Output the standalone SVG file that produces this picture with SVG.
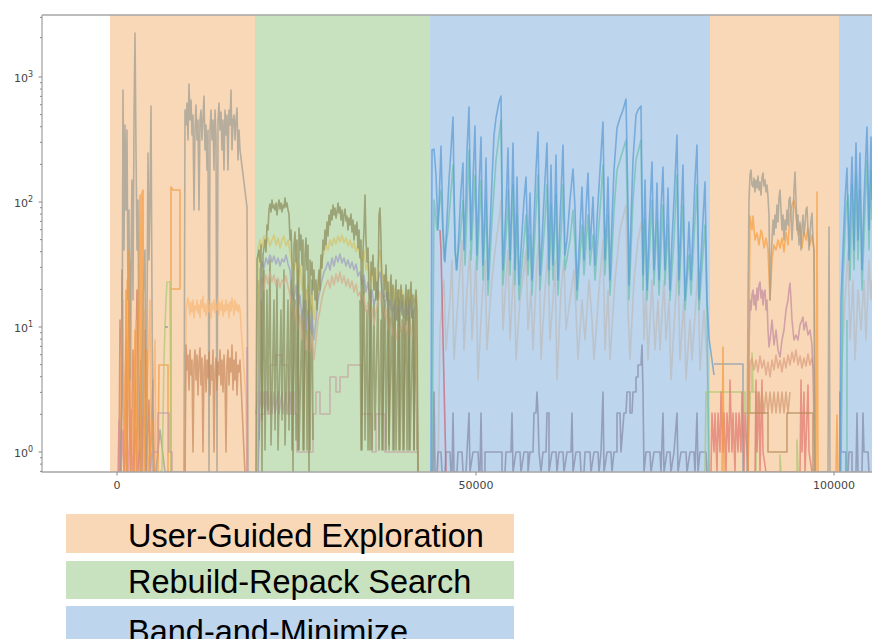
<svg xmlns="http://www.w3.org/2000/svg" width="872" height="639" viewBox="0 0 872 639">
  <style>
    .tick { stroke: #8a8a8a; stroke-width: 1; }
    .spine { stroke: #a6a6a6; stroke-width: 1.3; fill: none; }
    .tl { font-family: "DejaVu Sans", sans-serif; font-size: 11px; fill: #444; }
    .ln { fill: none; stroke-width: 1.6; stroke-linejoin: round; stroke-opacity: 0.72; }
    .leg { font-family: "Liberation Sans", Arial, sans-serif; font-size: 32.5px; fill: #000; }
  </style>
  <defs>
    <clipPath id="plotArea"><rect x="42" y="15" width="830" height="457"/></clipPath>
  </defs>

  <rect width="872" height="639" fill="#fff"/>

  <!-- phase spans -->
  <g id="phases">
    <rect x="110" y="15" width="145" height="457" fill="#f9d8b8"/>
    <rect x="255" y="15" width="175" height="457" fill="#c8e1bf"/>
    <rect x="430" y="15" width="280" height="457" fill="#bdd5ed"/>
    <rect x="710" y="15" width="129" height="457" fill="#f9d8b8"/>
    <rect x="839" y="15" width="33" height="457" fill="#bdd5ed"/>
  </g>

  <!-- score traces -->
  <g id="traces" clip-path="url(#plotArea)">
    <!-- exploration phase 1 -->
    <polyline class="ln" stroke="#d07a5a" points="119,472 120,320 121,472 122,270 123,380 124,472 126,340 127,472 129,300 130,420 131,472 133,350 134,472 137,290 138,472 141,360 142,472 145,330 146,472 149,400 150,472 153,380 154,472 156,472"/>
    <polyline class="ln" stroke="#f7b070" points="120,472 121,360 123,300 124,472 127,280 128,400 131,260 132,472 136,320 137,472 144,310 145,472 150,300 151,472 155,340 156,472"/>
    <polyline class="ln" stroke="#e08a90" points="118,472 119,420 121,472 123,430 124,472 127,440 128,472 131,410 132,472 136,430 137,472 140,450 141,472"/>
    <polyline class="ln" stroke="#9c9c92" stroke-width="2" points="118,472 120,472 122,400 123,90 124,250 125,125 126,210 127,130 128,300 129,210 130,380 131,260 132,180 133,300 134,120 135,33 136,150 137,250 138,200 139,380 140,472 142,400 143,300 145,250 146,472 148,153 149,260 150,200 151,106 152,300 153,472 156,472 160,430 165,472 184,472 185,110 186,125 187,103 188,140 189,84 190,120 191,100 192,135 193,115 194,210 195,130 196,105 197,140 198,120 199,210 200,120 201,110 202,140 203,118 204,96 205,150 206,125 207,170 208,130 209,472 210,130 211,110 212,140 213,120 214,170 215,110 216,135 217,472 218,120 219,103 220,130 221,112 222,150 223,120 224,170 225,110 226,135 227,115 228,170 229,110 230,125 231,90 232,150 233,120 234,115 235,140 236,120 237,108 238,160 239,130 240,150 247,207 248,472"/>
    <polyline class="ln" stroke="#f39a40" points="125,472 126,290 127,472 129,250 130,472 134,472 135,330 136,472 139,300 140,195 141,472 142,193 143,190 144,472 147,350 148,472 153,420 154,472 158,472 159,365 168,365 168,472 171,472 171,187 173,190 180,190 180,289 171,289"/>
    <polyline class="ln" stroke="#a8cc78" points="160,472 162,470 163,420 164,360 165,327 166,300 167,282 170,282 171,472"/>
    <polyline class="ln" stroke="#7f93a8" points="165,327 168,327"/>
    <polyline class="ln" stroke="#c898a8" points="150,472 152,452 158,452 158,413 169,413 169,452 172,452 172,472"/>
    <polyline class="ln" stroke="#f8b878" points="185,472 186,310 188,298 189,305 190,315 191,302 192,312 193,300 194,318 195,306 196,310 197,300 198,313 199,305 200,318 201,300 202,308 203,296 204,312 205,304 206,316 207,306 208,300 209,312 210,305 211,318 212,303 213,310 214,300 215,313 216,304 217,310 218,298 219,315 220,303 221,310 222,300 223,316 224,305 225,312 226,300 227,310 228,304 229,318 230,302 231,311 232,298 233,306 234,315 235,300 236,310 237,304 238,312 239,305 240,310 246,400 247,472"/>
    <polyline class="ln" stroke="#c98a5e" points="185,472 186,345 187,370 188,355 189,390 190,350 191,375 192,360 193,452 194,365 195,350 196,380 197,355 198,395 199,362 200,348 201,385 202,358 203,452 204,370 205,355 206,392 207,360 208,378 209,352 210,395 211,365 212,380 213,350 214,452 215,372 216,358 217,390 218,362 219,375 220,350 221,385 222,360 223,392 224,355 225,378 226,452 227,362 228,350 229,385 230,358 231,372 232,345 233,390 234,360 235,380 236,352 237,395 238,365 239,372 240,360 244,452 245,472"/>
    <polyline class="ln" stroke="#c890a0" points="247,347 247,472"/>

    <!-- rebuild-repack phase -->
    <polyline class="ln" stroke="#b0a0a0" points="256,414 258,392 259,414 261,392 262,414 264,392 265,414 267,392 268,414 271,392 272,414 274,392 275,414 278,392 279,414 282,392 283,414 286,392 287,414 290,392 291,414"/>
    <polyline class="ln" stroke="#c4a4a0" points="258,472 260,414 265,414 265,392 268,392 268,414 270,414 270,365 276,365 276,355 282,355 282,365 288,365 288,414 292,414 292,392 294,392 294,414 297,414 297,452 313,452 313,414 316,414 316,392 320,392 320,414 330,414 330,377 336,377 336,392 340,392 340,377 348,377 348,365 362,365 362,414 372,414 372,452 376,452 376,414 385,414 385,452 418,452 418,472"/>
    <polyline class="ln" stroke="#8c8f5e" stroke-opacity="0.35" points="258,280 259,440 261,300 262,420 264,270 265,450 267,290 268,410 270,260 271,445 274,300 275,430 277,280 278,450 281,310 282,420 284,270 285,445 288,300 289,430 291,280 292,450 295,300 296,440 298,270 299,450 302,310 303,450 306,290 307,450 309,300 310,450 312,280 313,440"/>
    <polyline class="ln" stroke="#8c8f5e" stroke-opacity="0.35" points="360,300 361,450 364,280 365,440 367,310 368,450 371,290 372,450 374,300 375,430 378,290 379,450 381,320 382,450 385,300 386,450 388,290 389,445 392,310 393,450 395,300 396,450 399,290 400,450 402,320 403,450 406,300 407,450 409,290 410,450 413,310 414,450 416,300 417,450"/>
    <polyline class="ln" stroke="#d4ad8c" points="258,472 260,285 262,278 264,290 266,275 268,284 270,272 272,282 274,275 276,286 278,278 280,288 282,280 284,284 286,276 288,286 290,295 292,310 294,320 296,305 298,330 300,315 302,340 304,320 306,350 308,330 310,352 312,335 314,360 316,340 318,320 320,310 322,298 324,290 326,285 328,280 330,288 332,276 334,285 336,274 338,282 340,272 342,283 344,276 346,286 348,279 350,288 352,281 354,292 356,284 358,296 360,292 362,305 364,295 366,312 368,302 370,320 372,308 374,325 376,312 378,300 380,292 382,310 384,318 386,308 388,330 390,318 392,335 394,322 396,340 398,326 400,332 402,320 404,338 406,325 408,335 410,320 412,338 414,328 416,324 418,472"/>
    <polyline class="ln" stroke="#9e9ec2" points="258,472 260,270 262,262 264,268 266,258 268,264 270,255 272,262 274,256 276,264 278,258 280,266 282,259 284,262 286,255 288,264 290,270 292,290 294,300 296,285 298,310 300,295 302,320 304,300 306,330 308,310 310,330 312,315 314,340 316,320 318,300 320,290 322,280 324,272 326,268 328,262 330,270 332,258 334,266 336,256 338,262 340,254 342,263 344,258 346,266 348,260 350,268 352,262 354,270 356,264 358,276 360,272 362,285 364,275 366,292 368,282 370,300 372,290 374,305 376,295 378,280 380,272 382,290 384,300 386,292 388,310 390,300 392,315 394,305 396,320 398,306 400,312 402,300 404,318 406,305 408,315 410,300 412,318 414,310 416,305 418,472"/>
    <polyline class="ln" stroke="#d6c46a" points="257,472 258,250 260,240 262,248 264,236 266,244 268,238 270,246 272,240 274,235 276,245 278,238 280,248 282,240 284,236 286,246 288,240 290,252 292,262 294,270 296,258 298,280 300,265 302,290 304,275 306,300 308,285 310,310 312,295 314,320 316,300 318,290 320,270 322,260 324,252 326,245 328,250 330,240 332,246 334,238 336,244 338,236 340,242 342,235 344,243 346,238 348,246 350,240 352,248 354,242 356,252 358,246 360,256 362,262 364,250 366,270 368,262 370,280 372,270 374,290 376,280 378,262 380,250 382,270 384,285 386,275 388,292 390,282 392,300 394,288 396,305 398,292 400,298 402,290 404,305 406,295 408,300 410,290 412,305 414,300 416,296 418,472"/>
    <polyline class="ln" stroke="#8a8a5a" stroke-width="1.9" points="256,472 257,260 259,250 260,262 261,245 262,472 263,255 265,240 266,252 267,225 268,230 269,210 270,204 271,212 272,200 273,208 274,205 275,210 276,203 277,215 278,206 279,200 280,209 281,203 282,212 283,205 284,208 285,198 286,207 287,203 288,210 289,214 290,240 291,230 292,260 293,472 294,245 295,232 296,262 297,240 298,450 299,228 300,250 301,235 302,265 303,240 304,450 305,255 306,238 307,270 308,245 309,472 310,260 311,275 312,262 313,290 314,270 315,300 316,280 317,310 318,285 319,270 320,290 321,255 322,268 323,240 324,250 325,230 326,245 327,222 328,236 329,215 330,225 331,210 332,220 333,205 334,215 335,208 336,218 337,212 338,203 339,213 340,207 341,220 342,210 343,226 344,215 345,209 346,221 347,216 348,230 349,218 350,225 351,214 352,232 353,220 354,240 355,225 356,235 357,222 358,248 359,230 360,258 361,240 362,450 363,250 364,230 365,195 366,240 367,262 368,248 369,290 370,450 371,262 372,275 373,255 374,290 375,268 376,300 377,282 378,300 379,215 380,208 381,240 382,300 383,450 384,275 385,290 386,265 387,300 388,282 389,450 390,295 391,275 392,310 393,285 394,450 395,300 396,280 397,320 398,290 399,450 400,300 401,285 402,315 403,295 404,450 405,305 406,285 407,320 408,290 409,450 410,300 411,282 412,318 413,295 414,450 415,300 416,290 417,310 418,472"/>

    <!-- band-and-minimize phase -->
    <polyline class="ln" stroke="#bcbcbc" points="438,472 440,330 444,280 446,350 450,300 452,260 454,360 458,300 462,240 464,350 467,290 470,250 472,340 476,260 478,380 482,300 485,260 487,350 491,290 495,250 499,220 501,200 503,330 506,280 508,250 510,340 514,260 516,360 520,300 524,270 526,250 528,330 531,290 533,350 537,260 539,240 541,360 545,290 548,250 550,340 553,300 555,260 557,380 561,290 564,260 566,330 570,300 574,270 576,310 578,360 582,300 585,340 589,280 592,320 594,360 599,290 603,240 605,350 608,290 610,360 615,280 620,230 626,205 628,310 630,360 634,280 638,240 642,220 644,340 646,290 648,360 652,280 655,350 658,300 660,350 664,280 666,340 669,300 671,380 675,310 678,260 680,360 684,300 686,380 690,320 692,360 696,300 698,270 700,370 704,310 707,360 709,472"/>
    <polyline class="ln" stroke="#6cc0ae" points="432,472 434,200 437,230 441,190 444,260 448,230 453,165 456,270 460,240 463,200 465,265 469,150 471,260 475,175 477,270 481,180 483,280 486,200 488,295 492,220 496,160 501,120 503,285 507,220 508,190 510,275 513,185 515,285 517,215 519,300 524,240 526,215 528,275 530,235 532,295 536,210 538,175 540,290 545,220 547,185 549,285 551,205 553,280 556,195 558,295 562,215 563,185 565,270 570,240 573,210 575,245 577,300 582,225 584,275 588,215 590,265 593,235 595,280 600,210 603,165 605,275 608,215 610,295 614,210 617,170 623,150 626,140 628,240 629,300 633,200 636,160 641,140 643,290 645,220 647,300 652,200 654,285 657,220 659,295 663,205 665,285 668,225 670,300 674,240 677,175 679,295 683,205 685,310 689,255 691,295 695,220 697,185 699,310 705,225 707,310 709,472"/>
    <polyline class="ln" stroke="#5b9bd5" points="431,472 432,150 434,149 436,175 438,230 439,205 441,146 443,230 445,262 447,220 449,180 451,150 453,117 455,250 457,270 459,230 461,190 463,163 464,250 466,200 467,150 469,107 471,240 473,180 475,126 477,255 479,190 481,137 483,265 485,200 486,158 488,280 490,230 492,180 494,135 496,118 499,102 501,96 503,270 505,230 507,180 508,148 510,260 512,190 513,143 515,270 517,177 519,285 521,250 524,200 526,177 528,260 530,193 532,280 534,220 536,170 538,132 540,275 542,240 545,180 547,143 549,270 551,165 553,265 555,200 556,155 558,280 560,220 562,170 563,145 565,255 567,240 570,200 573,169 575,208 577,290 579,250 582,187 584,260 586,210 588,173 590,250 593,197 595,265 597,220 600,170 603,122 605,260 607,210 608,177 610,280 612,220 614,170 617,128 620,118 623,110 626,99 628,207 629,285 631,220 633,160 636,115 638,110 641,106 643,275 645,180 647,290 649,230 652,162 654,270 656,220 657,183 659,280 661,210 663,167 665,270 667,220 668,188 670,290 672,240 674,200 677,135 679,280 681,220 683,165 685,300 687,270 689,222 691,280 693,230 695,180 697,145 699,300 701,260 703,220 705,182 707,300 709,338 714,375"/>
    <polyline class="ln" stroke="#d06070" stroke-width="1.3" points="440,230 441,250 446,472"/>
    <polyline class="ln" stroke="#868aa6" points="432,472 433,472 434,392 435,472 437,472 438,452 441,452 442,472 445,472 446,452 450,452 451,472 452,472 453,413 454,472 457,472 458,452 462,452 463,472 466,472 467,452 469,413 470,472 473,452 478,452 479,472 480,472 481,413 482,472 485,472 485,452 502,452 502,472 505,472 506,452 511,452 512,413 513,472 516,452 520,452 521,472 524,452 528,452 528,472 530,452 533,452 534,413 536,413 537,392 538,413 539,452 541,472 543,452 546,452 547,413 549,413 549,472 552,452 556,452 557,472 559,452 563,452 564,472 567,452 571,452 572,413 573,472 576,452 580,452 581,472 584,472 585,452 590,452 591,472 594,452 598,452 599,472 601,452 603,392 604,472 607,452 611,452 612,472 614,452 617,452 617,413 620,413 621,452 624,413 626,413 627,392 630,392 630,413 632,413 633,392 636,392 636,377 638,377 638,365 641,365 642,345 643,392 644,472 646,452 650,452 651,472 654,452 660,452 661,472 663,413 664,472 667,452 670,452 671,472 674,452 677,413 678,472 681,452 686,452 687,472 690,452 694,452 695,472 697,413 698,472 700,452 706,452 707,472"/>

    <!-- exploration phase 2 -->
    <polyline class="ln" stroke="#7f9ab0" points="714,364 743,364 743,472"/>
    <polyline class="ln" stroke="#a8c86c" points="705,472 706,392 745,392 745,413 750,413 750,392 752,392 752,353 753,392 756,392 756,472 780,472 780,455 781,472 797,472 797,440 798,472"/>
    <polyline class="ln" stroke="#e07a70" stroke-opacity="0.5" points="711,472 712,413 714,452 715,413 717,472 718,413 720,452 721,392 723,452 724,413 726,472 727,413 729,452 730,380 732,452 733,413 735,472 736,413 738,452 739,413 741,452 742,392 744,472 745,413 747,452 748,472 755,472 756,380 757,452 759,392 760,472 762,380 763,452 766,472 800,472 801,380 802,452 804,392 805,472 808,385 809,452 812,472"/>
    <polyline class="ln" stroke="#d49a70" stroke-opacity="0.6" points="757,413 758,392 760,413 762,392 764,413 766,392 768,413 770,392 772,413 774,392 776,413 778,392 780,413 782,392 784,413 786,392 788,413 790,392"/>
    <polyline class="ln" stroke="#b08858" points="747,413 768,413 768,452 787,452 787,413 813,413 813,472"/>
    <polyline class="ln" stroke="#dca080" points="748,472 750,365 752,358 754,370 756,360 758,372 760,356 762,368 764,360 766,375 768,362 770,377 772,360 774,370 776,355 778,368 780,360 782,372 784,358 786,368 788,355 790,365 792,352 794,362 796,350 798,365 800,356 802,368 804,358 806,366 808,354 810,365 812,358 814,370 815,472"/>
    <polyline class="ln" stroke="#c08ca0" points="748,472 749,350 750,300 751,310 752,295 753,290 754,305 755,295 756,310 757,288 758,300 759,285 760,282 761,298 762,290 763,305 764,292 765,290 766,310 767,300 768,330 769,347 770,340 772,320 774,345 776,330 778,350 780,357 782,340 784,330 786,310 788,300 789,290 790,283 791,300 792,320 794,340 796,335 798,340 800,325 802,320 803,317 804,330 806,322 808,335 810,330 812,345 813,373 815,472"/>
    <polyline class="ln" stroke="#f5a042" points="748,472 750,216 752,230 753,216 755,240 757,233 759,245 761,230 762,233 764,248 766,238 768,250 770,300 772,260 774,245 776,250 778,240 780,248 782,238 784,252 786,232 788,245 790,215 792,205 794,200 796,215 798,235 800,225 802,248 804,232 806,240 808,228 810,245 812,235 814,250 815,472 816,472 817,192 818,472"/>
    <polyline class="ln" stroke="#f39a40" points="722,472 723,347 724,472 836,472 837,415 838,472"/>
    <polyline class="ln" stroke="#9c9c92" stroke-width="1.9" points="744,472 747,472 748,300 749,200 750,175 751,170 752,185 753,187 754,178 755,192 756,180 757,188 758,176 759,190 760,182 761,195 762,178 763,173 764,186 765,180 766,192 767,185 768,197 769,215 770,300 771,260 772,240 773,220 774,235 775,215 776,228 777,205 778,222 779,198 780,190 781,210 782,230 783,215 784,240 785,220 786,230 787,210 788,225 789,200 790,197 791,215 792,240 793,220 794,190 795,172 796,200 797,230 798,215 799,245 800,222 801,250 802,228 803,215 804,235 805,225 806,210 807,207 808,230 809,250 810,235 811,220 812,213 813,240 814,250 815,472 828,472 829,227 830,472"/>

    <!-- band-and-minimize phase 2 -->
    <polyline class="ln" stroke="#8080d0" points="840,472 840,392 841,452 846,452 846,472"/>
    <polyline class="ln" stroke="#6cc0ae" points="847,320 847,472"/>
    <polyline class="ln" stroke="#bcbcbc" points="840,472 842,360 845,300 848,250 850,340 853,280 855,360 858,290 861,330 864,280 866,340 869,260 871,300 872,280"/>
    <polyline class="ln" stroke="#6cc0ae" points="841,472 843,280 846,210 848,195 850,280 852,185 854,270 856,175 858,260 860,190 862,290 865,210 867,160 869,250 871,170 872,220"/>
    <polyline class="ln" stroke="#5b9bd5" points="840,472 841,300 843,250 845,200 847,168 849,260 851,190 852,157 854,250 855,190 856,143 858,240 860,153 862,270 864,200 866,150 867,127 869,230 871,137 872,200"/>
    <polyline class="ln" stroke="#868aa6" points="848,472 849,452 852,452 852,472 856,472 857,413 858,472 862,472 863,413 864,452 868,452 869,472"/>
  </g>

  <!-- axes -->
  <g id="axes">
    <polyline class="spine" points="42,15 42,472 872,472"/>
    <line class="spine" x1="42" y1="15" x2="872" y2="15"/>
    <g class="tick">
      <line x1="38.5" y1="77" x2="42" y2="77"/>
      <line x1="38.5" y1="202" x2="42" y2="202"/>
      <line x1="38.5" y1="327" x2="42" y2="327"/>
      <line x1="38.5" y1="452" x2="42" y2="452"/>
      <!-- minor ticks, decades 10^0..10^3 -->
      <line x1="40" y1="37.6" x2="42" y2="37.6"/>
      <line x1="40" y1="17.4" x2="42" y2="17.4"/>
      <line x1="40" y1="164.4" x2="42" y2="164.4"/>
      <line x1="40" y1="142.4" x2="42" y2="142.4"/>
      <line x1="40" y1="126.7" x2="42" y2="126.7"/>
      <line x1="40" y1="114.6" x2="42" y2="114.6"/>
      <line x1="40" y1="104.7" x2="42" y2="104.7"/>
      <line x1="40" y1="96.4" x2="42" y2="96.4"/>
      <line x1="40" y1="89.1" x2="42" y2="89.1"/>
      <line x1="40" y1="82.7" x2="42" y2="82.7"/>
      <line x1="40" y1="289.4" x2="42" y2="289.4"/>
      <line x1="40" y1="267.4" x2="42" y2="267.4"/>
      <line x1="40" y1="251.7" x2="42" y2="251.7"/>
      <line x1="40" y1="239.6" x2="42" y2="239.6"/>
      <line x1="40" y1="229.7" x2="42" y2="229.7"/>
      <line x1="40" y1="221.4" x2="42" y2="221.4"/>
      <line x1="40" y1="214.1" x2="42" y2="214.1"/>
      <line x1="40" y1="207.7" x2="42" y2="207.7"/>
      <line x1="40" y1="414.4" x2="42" y2="414.4"/>
      <line x1="40" y1="392.4" x2="42" y2="392.4"/>
      <line x1="40" y1="376.7" x2="42" y2="376.7"/>
      <line x1="40" y1="364.6" x2="42" y2="364.6"/>
      <line x1="40" y1="354.7" x2="42" y2="354.7"/>
      <line x1="40" y1="346.4" x2="42" y2="346.4"/>
      <line x1="40" y1="339.1" x2="42" y2="339.1"/>
      <line x1="40" y1="332.7" x2="42" y2="332.7"/>
      <line x1="40" y1="457.7" x2="42" y2="457.7"/>
      <line x1="40" y1="464.1" x2="42" y2="464.1"/>
      <line x1="40" y1="471.4" x2="42" y2="471.4"/>
      <line x1="117" y1="472" x2="117" y2="475.5"/>
      <line x1="476" y1="472" x2="476" y2="475.5"/>
      <line x1="834" y1="472" x2="834" y2="475.5"/>
    </g>
    <text class="tl" x="14" y="82">10<tspan font-size="8" dy="-5">3</tspan></text>
    <text class="tl" x="14" y="207">10<tspan font-size="8" dy="-5">2</tspan></text>
    <text class="tl" x="14" y="332">10<tspan font-size="8" dy="-5">1</tspan></text>
    <text class="tl" x="14" y="457">10<tspan font-size="8" dy="-5">0</tspan></text>
    <text class="tl" x="117" y="489" text-anchor="middle">0</text>
    <text class="tl" x="476" y="489" text-anchor="middle">50000</text>
    <text class="tl" x="834" y="489" text-anchor="middle">100000</text>
  </g>

  <!-- phase legend -->
  <g id="legend-exploration">
    <rect x="66" y="514" width="448" height="39" fill="#f9d8b8"/>
    <text class="leg" x="128" y="547">User-Guided Exploration</text>
  </g>
  <g id="legend-rebuild">
    <rect x="66" y="561" width="448" height="38" fill="#c8e1bf"/>
    <text class="leg" x="128" y="593">Rebuild-Repack Search</text>
  </g>
  <g id="legend-band">
    <rect x="66" y="606" width="448" height="40" fill="#bdd5ed"/>
    <text class="leg" x="128" y="643">Band-and-Minimize</text>
  </g>
</svg>
